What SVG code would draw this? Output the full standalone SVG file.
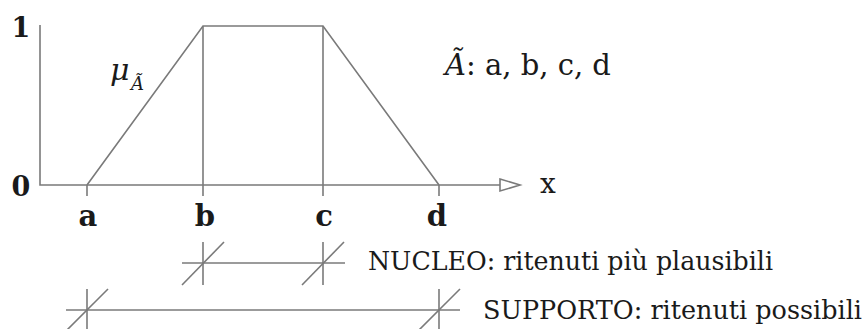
<svg xmlns="http://www.w3.org/2000/svg" width="866" height="329" viewBox="0 0 866 329">
<style>
.ln{stroke:#7a7a7a;stroke-width:1.6;fill:none}
.lb{font-family:"DejaVu Serif","Liberation Serif",serif;font-weight:bold;fill:#1a1a1a;text-anchor:middle}
.tx{font-family:"DejaVu Serif","Liberation Serif",serif;fill:#1a1a1a}
</style>
<rect width="866" height="329" fill="#fff"/>
<g id="axes">
<polyline class="ln" points="40,25 40,185 500,185"/>
<polygon class="ln" points="500,179 520,185 500,191" fill="#fff"/>
<text class="lb" x="21" y="37" font-size="27">1</text>
<text class="lb" x="21" y="196" font-size="27">0</text>
<text class="tx" x="540" y="193" font-size="28">x</text>
</g>
<g id="membership">
<polyline class="ln" points="87,185 203,26 323,26 439,185"/>
<line class="ln" x1="203" y1="26" x2="203" y2="196"/>
<line class="ln" x1="323" y1="26" x2="323" y2="196"/>
<line class="ln" x1="87" y1="185" x2="87" y2="196"/>
<line class="ln" x1="439" y1="185" x2="439" y2="196"/>
<text class="tx" x="110" y="80" font-size="30" font-style="italic">μ</text>
<text class="tx" x="131" y="90" font-size="18" font-style="italic">Ã</text>
</g>
<g id="labels">
<text class="lb" x="88" y="226" font-size="29">a</text>
<text class="lb" x="205" y="226" font-size="29">b</text>
<text class="lb" x="324" y="226" font-size="29">c</text>
<text class="lb" x="437" y="226" font-size="29">d</text>
</g>
<g id="definition">
<text class="tx" x="445" y="75" font-size="29"><tspan font-style="italic">Ã</tspan>: a, b, c, d</text>
</g>
<g id="nucleo">
<line class="ln" x1="182" y1="263" x2="345" y2="263"/>
<line class="ln" x1="203" y1="242" x2="203" y2="285"/>
<line class="ln" x1="323" y1="242" x2="323" y2="285"/>
<line class="ln" x1="182" y1="285" x2="224" y2="242"/>
<line class="ln" x1="302" y1="285" x2="344" y2="242"/>
<text class="tx" x="368" y="270" font-size="25.8" textLength="405" lengthAdjust="spacingAndGlyphs">NUCLEO: ritenuti più plausibili</text>
</g>
<g id="supporto">
<line class="ln" x1="66" y1="310" x2="460" y2="310"/>
<line class="ln" x1="87" y1="289" x2="87" y2="331"/>
<line class="ln" x1="439" y1="289" x2="439" y2="331"/>
<line class="ln" x1="66" y1="331" x2="108" y2="289"/>
<line class="ln" x1="418" y1="331" x2="460" y2="289"/>
<text class="tx" x="483" y="319" font-size="25.8" textLength="379" lengthAdjust="spacingAndGlyphs">SUPPORTO: ritenuti possibili</text>
</g>
</svg>
